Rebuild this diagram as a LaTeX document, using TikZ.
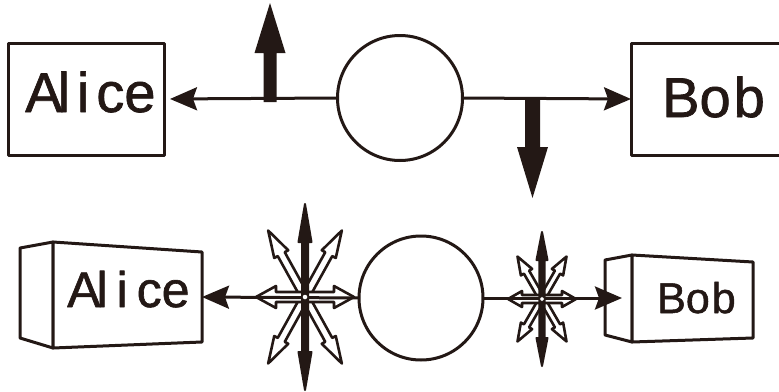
\documentclass[tikz,border=0pt]{standalone}
\usepackage{fontspec}
\newfontfamily\labfont[FakeBold=1.2]{Liberation Sans}
\usetikzlibrary{arrows.meta}
\definecolor{ink}{HTML}{231815}
\newcommand\mkspoke[7]{%
  \path[#7, shift={#1}, rotate=#2] (0,-#6) -- ({#3-#4},-#6) -- ({#3-#4},-#5) -- (#3,0)
    -- ({#3-#4},#5) -- ({#3-#4},#6) -- (0,#6) -- cycle;}
\begin{document}
\begin{tikzpicture}[x=1pt,y=-1pt,line join=round,
  boxnode/.style={draw=ink,line width=3pt,rectangle,inner sep=0pt,outer sep=0pt},
  ring/.style={draw=ink,line width=3pt,circle,inner sep=0pt,outer sep=0pt},
  conn/.style={draw=ink,line width=3pt,-{Stealth[length=27pt,width=23pt,inset=4pt]}},
  facepath/.style={draw=ink,line width=3pt,fill=white},
  hollow/.style={draw=ink,line width=2.6pt,fill=white},
  solid/.style={draw=ink,line width=2pt,fill=ink},
  txt/.style={text=ink,inner sep=0pt,anchor=base west}]
\useasboundingbox (0,0) rectangle (779,391);
\clip (0,0) rectangle (779,391);
% ---------- top row ----------
\node[boxnode,minimum width=156pt,minimum height=112pt] (alice1) at (86,99) {};
\node[boxnode,minimum width=200pt,minimum height=112pt] (bob1) at (731,99) {};
\node[txt,font={\labfont\fontsize{56pt}{60pt}\selectfont}] (ta1) at (25,112) {A\kern-5pt l\kern7pt i\kern7pt ce};
\node[txt,font={\labfont\fontsize{56pt}{60pt}\selectfont}] (tb1) at (662,117) {Bo\kern3pt b};
\node[ring,minimum size=125pt] (c1) at (400,98) {};
\draw[conn,shorten >=6pt] (c1.west) -- (alice1.east);
\draw[conn] (c1.east) -- (bob1.west);
\coordinate (u1) at (270,98);
\coordinate (d1) at (532.5,98);
\fill[ink,shift={(u1)}] (-6.5,4) -- (-6.5,-45) -- (-15.5,-45) -- (0,-95) -- (15.5,-45) -- (6.5,-45) -- (6.5,4) -- cycle;
\fill[ink,shift={(d1)}] (-7.5,0) -- (-7.5,49) -- (-15.5,49) -- (0,100) -- (15.5,49) -- (7.5,49) -- (7.5,0) -- cycle;
% ---------- bottom row ----------
\path[facepath] (20,248) -- (53,242) -- (53,348) -- (20,338) -- cycle;
\path[facepath] (53,242) -- (202,252) -- (202,342) -- (53,348) -- cycle;
\coordinate (alice2) at (202,297);
\node[txt,font={\labfont\fontsize{50pt}{54pt}\selectfont}] (ta2) at (67,307) {A\kern-4pt l\kern9pt i\kern9pt ce};
\path[facepath] (605,260) -- (632,255) -- (632,342) -- (605,335) -- cycle;
\path[facepath] (632,255) -- (753,262) -- (753,338) -- (632,342) -- cycle;
\coordinate (bob2) at (622,298);
\node[txt,font={\labfont\fontsize{43pt}{47pt}\selectfont}] (tb2) at (657,313) {Bo\kern2pt b};
\node[ring,minimum size=124pt] (c2) at (421,298) {};
% left star
\coordinate (s1) at (305,297);
\foreach \a in {61,119,241,299} {\mkspoke{(s1)}{\a}{76}{27}{8}{4}{hollow}}
\foreach \a in {0,180} {\mkspoke{(s1)}{\a}{49}{20}{11}{5}{hollow}}
% right star
\coordinate (s2) at (542,299);
\foreach \a in {60,120,240,300} {\mkspoke{(s2)}{\a}{49}{18}{6.5}{3}{hollow}}
\foreach \a in {0,180} {\mkspoke{(s2)}{\a}{34}{14}{8}{4}{hollow}}
% connectors
\draw[conn] (c2.west) -- (alice2);
\draw[conn] (c2.east) -- (bob2);
% vertical black spokes
\foreach \a in {90,270} {\mkspoke{(s1)}{\a}{93}{38}{6.5}{3}{solid}}
\foreach \a in {90,270} {\mkspoke{(s2)}{\a}{67}{28}{5.5}{2.6}{solid}}
\node[circle,fill=white,draw=ink,line width=1pt,minimum size=6pt,inner sep=0pt] (s1c) at (s1) {};
\node[circle,fill=white,draw=ink,line width=1pt,minimum size=5pt,inner sep=0pt] (s2c) at (s2) {};
\end{tikzpicture}
\end{document}
